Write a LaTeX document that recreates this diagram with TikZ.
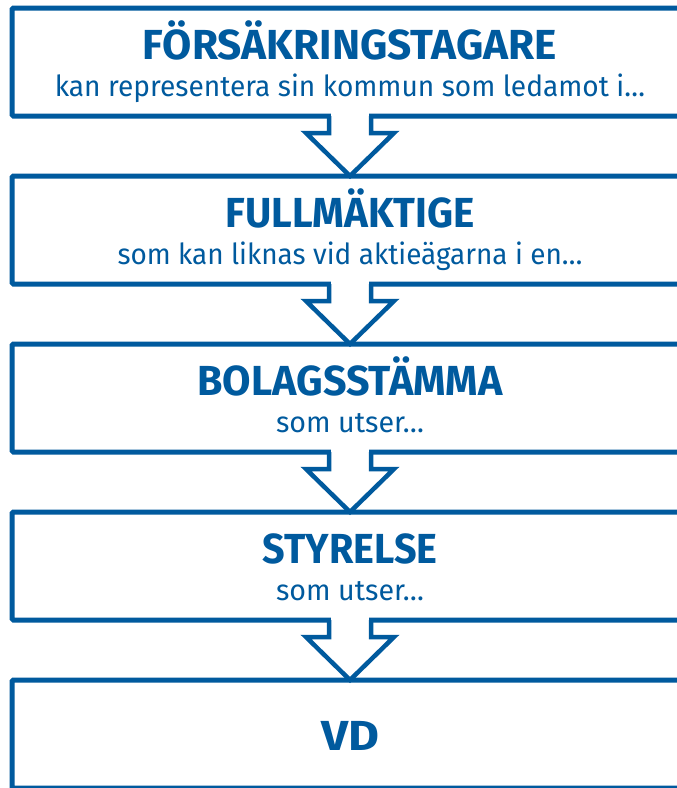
\documentclass[tikz,border=0pt]{standalone}
\usepackage{fontspec}
\setmainfont{Fira Sans}
\newfontfamily\subfont{Fira Sans Light}
\usepackage{graphicx}
\usetikzlibrary{calc}
\definecolor{fblue}{RGB}{0,90,158}
\newcommand\hfit[2]{\resizebox{#1}{\height}{#2}}
\begin{document}
\begin{tikzpicture}[x=1pt,y=-1pt,
  box/.style={draw=fblue, line width=5pt, rounded corners=1.5pt, minimum width=676pt, minimum height=108pt, inner sep=0pt, outer sep=0pt},
  ttl/.style={text=fblue, font=\fontsize{42}{42}\selectfont\bfseries, anchor=base, inner sep=0pt},
  sub/.style={text=fblue, font=\fontsize{29}{29}\selectfont, anchor=base, inner sep=0pt},
  arr/.style={draw=fblue, line width=4.5pt, line join=miter, miter limit=10}]
\useasboundingbox (0,0) rectangle (677,788);
\clip (0,0) rectangle (677,788);
\fill[white] (0,0) rectangle (677,788);
% boxes
\node[box] (b1) at (350,62) {};
\node[box] (b2) at (350,230) {};
\node[box] (b3) at (350,398) {};
\node[box] (b4) at (350,566) {};
\node[box] (b5) at (350,734) {};
% texts
\node[ttl] (t1) at (350,59) {\hfit{414pt}{FÖRSÄKRINGSTAGARE}};
\node[sub] (s1) at (350,96) {\hfit{590pt}{kan representera sin kommun som ledamot i…}};
\node[ttl] (t2) at (350,227) {\hfit{249pt}{FULLMÄKTIGE}};
\node[sub] (s2) at (350,264) {\hfit{465pt}{som kan liknas vid aktieägarna i en…}};
\node[ttl] (t3) at (350,395) {\hfit{305pt}{BOLAGSSTÄMMA}};
\node[sub] (s3) at (350,432) {\hfit{148pt}{som utser…}};
\node[ttl] (t4) at (350,563) {\hfit{175pt}{STYRELSE}};
\node[sub] (s4) at (350,600) {\hfit{148pt}{som utser…}};
\node[ttl] (t5) at (350,750) {\hfit{58pt}{VD}};
% arrows
\foreach \a/\b in {b1/b2,b2/b3,b3/b4,b4/b5}{
  \fill[white] ($(\a.south)+(-18.75,-3)$) rectangle ($(\a.south)+(18.75,3)$);
  \draw[arr] ($(\a.south)+(-21,0)$) -- ++(0,17) -- ++(-23,0) -- (\b.north)
     -- ($(\a.south)+(44,17)$) -- ++(-23,0) -- ++(0,-17);
}
\end{tikzpicture}
\end{document}
